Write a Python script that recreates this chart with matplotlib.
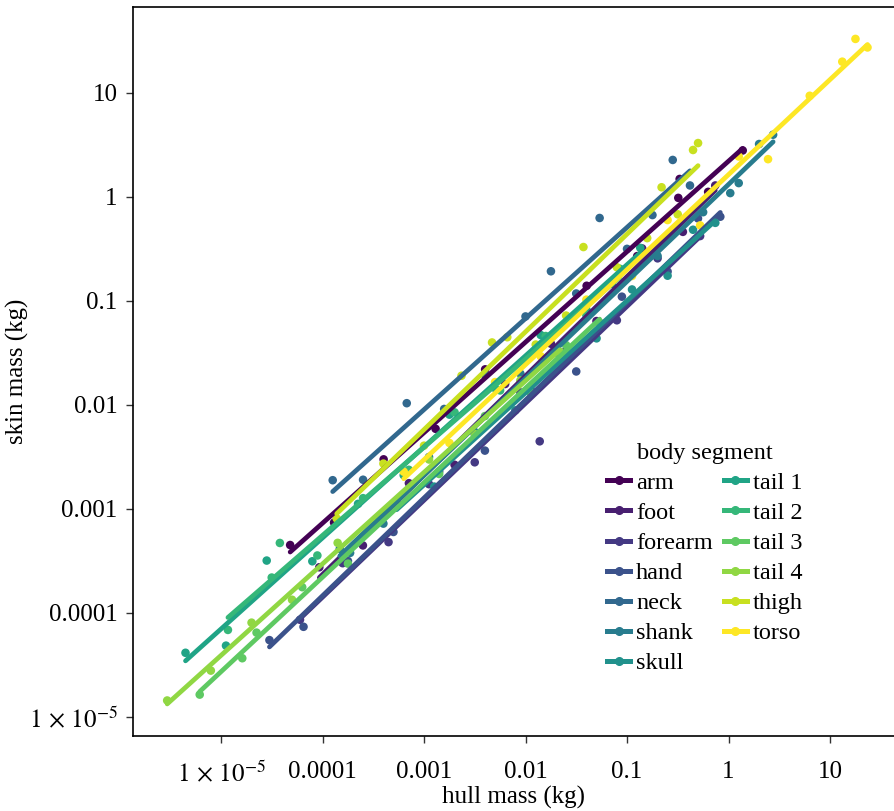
import matplotlib
matplotlib.use("Agg")
import matplotlib.pyplot as plt
import numpy as np
from matplotlib.lines import Line2D
from matplotlib.ticker import NullLocator

plt.rcParams['font.family'] = ['Liberation Serif', 'DejaVu Serif']
plt.rcParams['mathtext.fontset'] = 'stix'

segments = ['arm', 'foot', 'forearm', 'hand', 'neck', 'shank', 'skull',
            'tail 1', 'tail 2', 'tail 3', 'tail 4', 'thigh', 'torso']

# hull mass / skin mass (kg) per body segment
arm_hull = [4.8e-5, 1.3e-4, 4.0e-4, 1.3e-3, 4.0e-3, 0.0126, 0.040, 0.126, 0.32, 0.33, 0.63, 1.38]
arm_skin = [4.5e-4, 7.4e-4, 3.0e-3, 5.9e-3, 0.022, 0.034, 0.14, 0.27, 0.98, 1.49, 1.12, 2.8]

foot_hull = [9.3e-5, 2.5e-4, 7.1e-4, 2.0e-3, 6.3e-3, 0.0178, 0.050, 0.141, 0.355, 0.74]
foot_skin = [2.75e-4, 4.46e-4, 1.77e-3, 2.66e-3, 0.0159, 0.0388, 0.0641, 0.320, 0.462, 1.29]

forearm_hull = [6.0e-5, 1.58e-4, 4.47e-4, 1.12e-3, 3.16e-3, 8.9e-3, 0.0138, 0.0251, 0.0794, 0.200, 0.525]
forearm_skin = [8.6e-5, 3.01e-4, 4.80e-4, 1.73e-3, 2.81e-3, 0.0132, 4.47e-3, 0.0335, 0.0652, 0.257, 0.421]

hand_hull = [3.0e-5, 6.5e-5, 1.78e-4, 5.0e-4, 1.41e-3, 3.98e-3, 0.0112, 0.0316, 0.089, 0.251, 0.50, 0.83]
hand_skin = [5.48e-5, 7.36e-5, 3.16e-4, 6.01e-4, 2.29e-3, 3.64e-3, 0.0142, 0.0210, 0.110, 0.192, 0.622, 0.646]

neck_hull = [1.26e-4, 2.51e-4, 6.76e-4, 1.58e-3, 3.98e-3, 0.010, 0.0178, 0.0316, 0.0537, 0.100, 0.178, 0.282, 0.417]
neck_skin = [1.89e-3, 1.91e-3, 0.0104, 9.15e-3, 0.0195, 0.0710, 0.193, 0.118, 0.628, 0.317, 0.670, 2.27, 1.29]

shank_hull = [1.48e-4, 1.87e-4, 3.98e-4, 1.12e-3, 3.16e-3, 8.9e-3, 0.0251, 0.0708, 0.200, 0.562, 1.04, 1.26, 2.0, 2.75]
shank_skin = [4.14e-4, 3.78e-4, 7.23e-4, 3.16e-3, 5.50e-3, 0.0200, 0.0318, 0.146, 0.271, 0.714, 1.09, 1.36, 3.23, 3.97]

skull_hull = [5.37e-4, 1.26e-3, 3.16e-3, 7.94e-3, 0.0200, 0.0501, 0.112, 0.251, 0.447, 0.741]
skull_skin = [1.17e-3, 1.64e-3, 5.27e-3, 8.87e-3, 0.0319, 0.0437, 0.129, 0.175, 0.484, 0.564]

tail1_hull = [4.47e-6, 1.12e-5, 2.82e-5, 7.94e-5, 2.24e-4, 6.31e-4, 1.78e-3, 5.01e-3, 0.0141, 0.0398, 0.135]
tail1_skin = [4.14e-5, 4.85e-5, 3.19e-4, 3.14e-4, 1.12e-3, 2.11e-3, 8.07e-3, 0.0145, 0.0471, 0.0826, 0.324]

tail2_hull = [1.17e-5, 3.16e-5, 3.8e-5, 8.9e-5, 2.51e-4, 7.08e-4, 2.0e-3, 5.62e-3, 0.0158, 0.0398, 0.0851]
tail2_skin = [6.87e-5, 2.19e-4, 4.71e-4, 3.57e-4, 1.27e-3, 2.38e-3, 8.49e-3, 0.0138, 0.0460, 0.0728, 0.204]

tail3_hull = [6.17e-6, 1.62e-5, 2.24e-5, 6.31e-5, 1.78e-4, 5.01e-4, 1.41e-3, 3.98e-3, 0.0112, 0.0251, 0.0537]
tail3_skin = [1.64e-5, 3.67e-5, 6.47e-5, 1.77e-4, 2.98e-4, 1.12e-3, 2.17e-3, 7.82e-3, 0.0132, 0.0376, 0.0621]

tail4_hull = [2.95e-6, 7.94e-6, 2.0e-5, 5.01e-5, 1.41e-4, 3.98e-4, 1.12e-3, 3.16e-3, 8.9e-3, 0.0219]
tail4_skin = [1.44e-5, 2.79e-5, 8.07e-5, 1.34e-4, 4.72e-4, 8.89e-4, 2.99e-3, 5.25e-3, 0.0172, 0.0323]

thigh_hull = [1.38e-4, 3.98e-4, 1.0e-3, 2.34e-3, 4.68e-3, 6.61e-3, 0.0126, 0.0251, 0.0372, 0.0794, 0.158, 0.219, 0.316, 0.447, 0.501]
thigh_skin = [8.09e-4, 2.73e-3, 4.06e-3, 0.0191, 0.0399, 0.0448, 0.0381, 0.0724, 0.330, 0.211, 0.402, 1.24, 0.681, 2.83, 3.30]

torso_hull = [6.31e-4, 1.78e-3, 5.01e-3, 0.0141, 0.0398, 0.112, 0.251, 0.525, 1.26, 2.45, 6.31, 13.2, 17.8, 23.4]
torso_skin = [2.28e-3, 4.31e-3, 0.0166, 0.0294, 0.103, 0.174, 0.600, 0.533, 2.45, 2.31, 9.40, 20.0, 33.1, 27.4]

hull = [arm_hull, foot_hull, forearm_hull, hand_hull, neck_hull, shank_hull, skull_hull,
        tail1_hull, tail2_hull, tail3_hull, tail4_hull, thigh_hull, torso_hull]
skin = [arm_skin, foot_skin, forearm_skin, hand_skin, neck_skin, shank_skin, skull_skin,
        tail1_skin, tail2_skin, tail3_skin, tail4_skin, thigh_skin, torso_skin]

ticks = [1e-5, 1e-4, 1e-3, 1e-2, 0.1, 1, 10]
tick_labels = [r'$1\,\times\,10^{-5}$', '0.0001', '0.001', '0.01', '0.1', '1', '10']

colors = plt.cm.viridis(np.linspace(0, 1, len(segments)))

fig = plt.figure(figsize=(8.95, 8.11), dpi=100)
ax = fig.add_axes([0.1486, 0.0925, 0.8514, 0.8989])

for i, seg in enumerate(segments):
    ax.scatter(hull[i], skin[i], s=38, color=colors[i], edgecolors='none', zorder=2)

# log-log linear fit per segment
for i, seg in enumerate(segments):
    lx = np.log10(hull[i])
    ly = np.log10(skin[i])
    b, a = np.polyfit(lx, ly, 1)
    xs = np.sort(lx)
    ax.plot(10 ** xs, 10 ** (a + b * xs), color=colors[i], lw=3.4,
            solid_capstyle='round', zorder=3)

ax.set_xscale('log')
ax.set_yscale('log')
ax.set_xlim(10 ** -5.867, 10 ** 1.64)
ax.set_ylim(10 ** -5.183, 10 ** 1.827)
ax.set_xticks(ticks, tick_labels)
ax.set_yticks(ticks, tick_labels)
ax.xaxis.set_minor_locator(NullLocator())
ax.yaxis.set_minor_locator(NullLocator())
ax.tick_params(labelsize=18, length=5, width=1, color='#333333')
ax.tick_params(axis='x', pad=13)
ax.tick_params(axis='y', pad=6)
ax.spines['right'].set_visible(False)
for s in ['left', 'bottom', 'top']:
    ax.spines[s].set_linewidth(1.2)

ax.set_xlabel('hull mass (kg)', fontsize=18)
ax.set_ylabel('skin mass (kg)', fontsize=18)
ax.xaxis.set_label_coords(0.5, -0.068)
ax.yaxis.set_label_coords(-0.137, 0.5)

handles = [Line2D([0], [0], color=colors[i], lw=3.6, marker='o', ms=5.5)
           for i in range(len(segments))]
ax.legend(handles, segments, title='body segment', ncol=2, loc='upper left',
          bbox_to_anchor=(0.622, 0.402), frameon=False, fontsize=17.5,
          title_fontsize=17.5, handlelength=0.95, handletextpad=0.25,
          labelspacing=0.33, columnspacing=0.45, borderaxespad=0, borderpad=0)

fig.savefig('out.png', dpi=100)
